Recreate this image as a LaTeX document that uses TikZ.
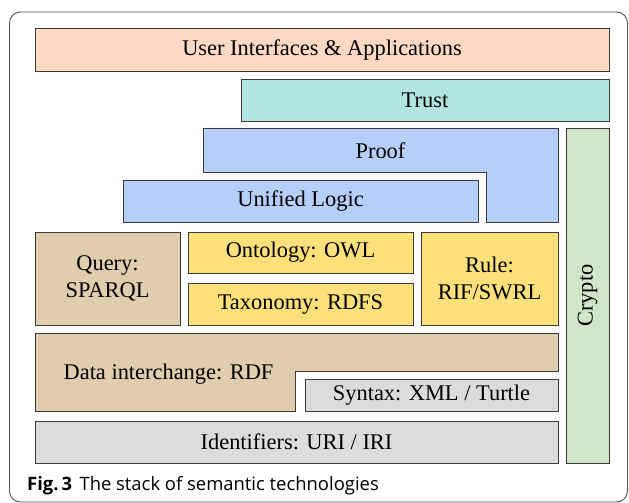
\documentclass[tikz,border=0pt]{standalone}
\usepackage{fontspec}
\setmainfont{Liberation Serif}
\newfontfamily\capfont{Open Sans}
\definecolor{cUser}{RGB}{253,217,196}
\definecolor{cTrust}{RGB}{179,229,224}
\definecolor{cProof}{RGB}{181,207,250}
\definecolor{cCrypto}{RGB}{209,229,200}
\definecolor{cData}{RGB}{223,205,173}
\definecolor{cYel}{RGB}{254,224,122}
\definecolor{cGray}{RGB}{220,220,220}
\definecolor{cLine}{RGB}{58,58,58}
\definecolor{cFrame}{RGB}{80,80,80}
\tikzset{
  layer/.style={draw=cLine, line width=0.9bp, inner sep=0pt, align=center,
    font=\fontsize{22.5}{27.5}\selectfont},
  lbl/.style={inner sep=0pt, align=center, font=\fontsize{22.5}{27.5}\selectfont},
}
\begin{document}
\begin{tikzpicture}[x=1bp,y=-1bp]
\useasboundingbox (0,0) rectangle (629,503);
% frame
\draw[cFrame, line width=0.9bp, rounded corners=11bp] (9.5,12) rectangle (627.5,502);
% top layers
\node[layer, fill=cUser, minimum width=574bp, minimum height=43bp] (user) at (322,50) {User Interfaces \& Applications};
\node[layer, fill=cTrust, minimum width=368bp, minimum height=42bp] (trust) at (425,100) {Trust};
% proof polygon
\draw[cLine, line width=0.9bp, fill=cProof] (203,128) -- (558,128) -- (558,222) -- (486,222) -- (486,172) -- (203,172) -- cycle;
\node[lbl] (proof) at (380.5,151) {Proof};
\node[layer, fill=cProof, minimum width=355bp, minimum height=42bp] (logic) at (300.5,201) {Unified Logic};
% crypto
\node[layer, fill=cCrypto, rotate=90, minimum width=335bp, minimum height=43bp] (crypto) at (587.5,295.5) {Crypto};
% middle
\node[layer, fill=cData, minimum width=145bp, minimum height=93bp] (query) at (107.5,278.5) {Query:\\SPARQL};
\node[layer, fill=cYel, minimum width=225bp, minimum height=41bp] (owl) at (300.5,252.5) {Ontology: OWL};
\node[layer, fill=cYel, minimum width=225bp, minimum height=42bp] (rdfs) at (300.5,304) {Taxonomy: RDFS};
\node[layer, fill=cYel, minimum width=137bp, minimum height=93bp] (rule) at (489.5,278.5) {Rule:\\RIF/SWRL};
% data interchange polygon
\draw[cLine, line width=0.9bp, fill=cData] (35,333) -- (558,333) -- (558,371.5) -- (295,371.5) -- (295,411) -- (35,411) -- cycle;
\node[lbl] (rdf) at (168.5,374.5) {Data interchange: RDF};
\node[layer, fill=cGray, minimum width=253bp, minimum height=32bp] (syntax) at (431.5,395) {Syntax: XML / Turtle};
\node[layer, fill=cGray, minimum width=523bp, minimum height=42bp] (ids) at (296.5,442) {Identifiers: URI / IRI};
% caption
\node[anchor=base west, inner sep=0pt, font=\capfont\fontsize{18.5}{22}\selectfont] (cap) at (27,490) {\textbf{Fig.\,3}\hspace{0.4em}The stack of semantic technologies};
\end{tikzpicture}
\end{document}
